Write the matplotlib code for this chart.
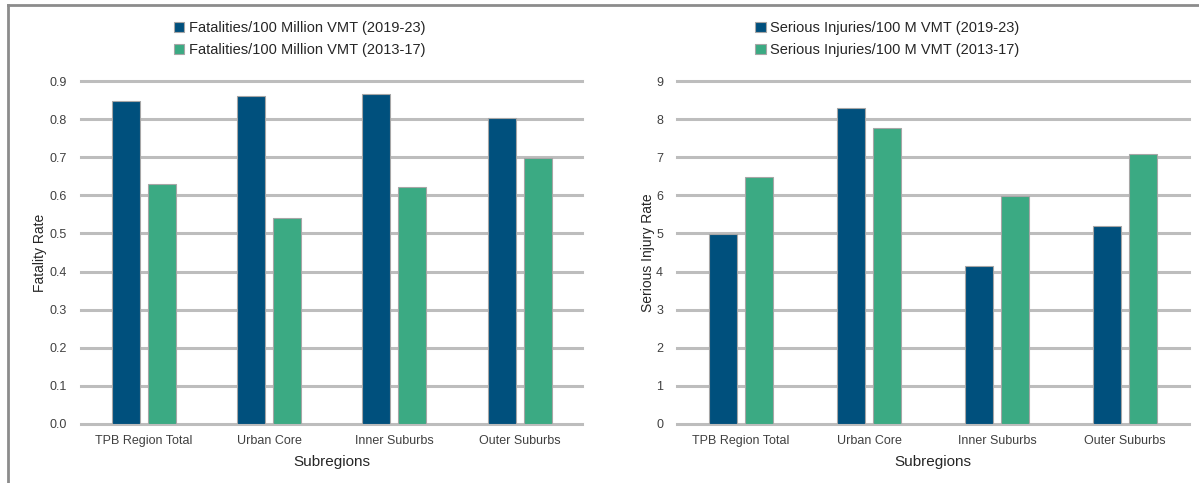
import matplotlib.pyplot as plt
from matplotlib.lines import Line2D
import numpy as np

plt.rcParams['font.family'] = ['Liberation Sans Narrow', 'Liberation Sans', 'DejaVu Sans']

subregions = ["TPB Region Total", "Urban Core", "Inner Suburbs", "Outer Suburbs"]

fatal_2019_23 = [0.848, 0.861, 0.866, 0.803]
fatal_2013_17 = [0.630, 0.541, 0.622, 0.698]

injury_2019_23 = [4.99, 8.29, 4.15, 5.20]
injury_2013_17 = [6.48, 7.77, 5.98, 7.09]

dark = "#00507D"
green = "#3BAA83"
grid_c = "#BDBDBD"
txt = "#404040"

fig = plt.figure(figsize=(11.99, 4.83), dpi=100)

ax1 = fig.add_axes([0.0676, 0.1222, 0.418, 0.710])
ax2 = fig.add_axes([0.5646, 0.1222, 0.427, 0.710])


def draw(ax, new, old, lab_new, lab_old, ylabel, ymax, step, fmt, bw, off, leg_x, ypad):
    x = np.arange(len(subregions))
    ax.bar(x - off, new, bw, color=dark, edgecolor="#A6A6A6", linewidth=0.8,
           label=lab_new, zorder=3)
    ax.bar(x + off, old, bw, color=green, edgecolor="#A6A6A6", linewidth=0.8,
           label=lab_old, zorder=3)
    ax.set_xlim(-0.5, len(subregions) - 0.5)
    ax.set_ylim(0, ymax)
    ticks = np.arange(0, ymax + step / 2, step)
    ax.set_yticks(ticks)
    ax.set_yticklabels([fmt.format(t) for t in ticks])
    ax.set_xticks(x)
    ax.set_xticklabels(subregions)
    for t in ticks:
        ax.axhline(t, color=grid_c, linewidth=2.2, zorder=1, clip_on=False)
    for s in ax.spines.values():
        s.set_visible(False)
    ax.tick_params(axis="both", length=0, colors=txt, labelsize=9)
    ax.tick_params(axis="y", pad=10)
    ax.tick_params(axis="x", pad=8)
    ax.set_xlabel("Subregions", fontsize=11, color="#262626", labelpad=6)
    ax.set_ylabel(ylabel, fontsize=10, color="#262626", labelpad=ypad)
    ax.legend(loc="center", bbox_to_anchor=(leg_x, 0.919),
              bbox_transform=fig.transFigure, frameon=False, fontsize=10.5,
              handlelength=0.7, handleheight=0.7, handletextpad=0.3,
              labelspacing=0.55, labelcolor="#262626")


draw(ax1, fatal_2019_23, fatal_2013_17,
     "Fatalities/100 Million VMT (2019-23)", "Fatalities/100 Million VMT (2013-17)",
     "Fatality Rate", 0.9, 0.1, "{:.1f}", 0.224, 0.144, 0.250, 2)
draw(ax2, injury_2019_23, injury_2013_17,
     "Serious Injuries/100 M VMT (2019-23)", "Serious Injuries/100 M VMT (2013-17)",
     "Serious Injury Rate", 9, 1, "{:.0f}", 0.22, 0.14, 0.740, 1)

# outer frame (top and left edges)
fig.add_artist(Line2D([8 / 1199, 1], [1 - 5 / 483, 1 - 5 / 483],
                      color="#8C8C8C", linewidth=2))
fig.add_artist(Line2D([8 / 1199, 8 / 1199], [0, 1 - 5 / 483],
                      color="#8C8C8C", linewidth=2))

fig.savefig("out.png", dpi=100)
